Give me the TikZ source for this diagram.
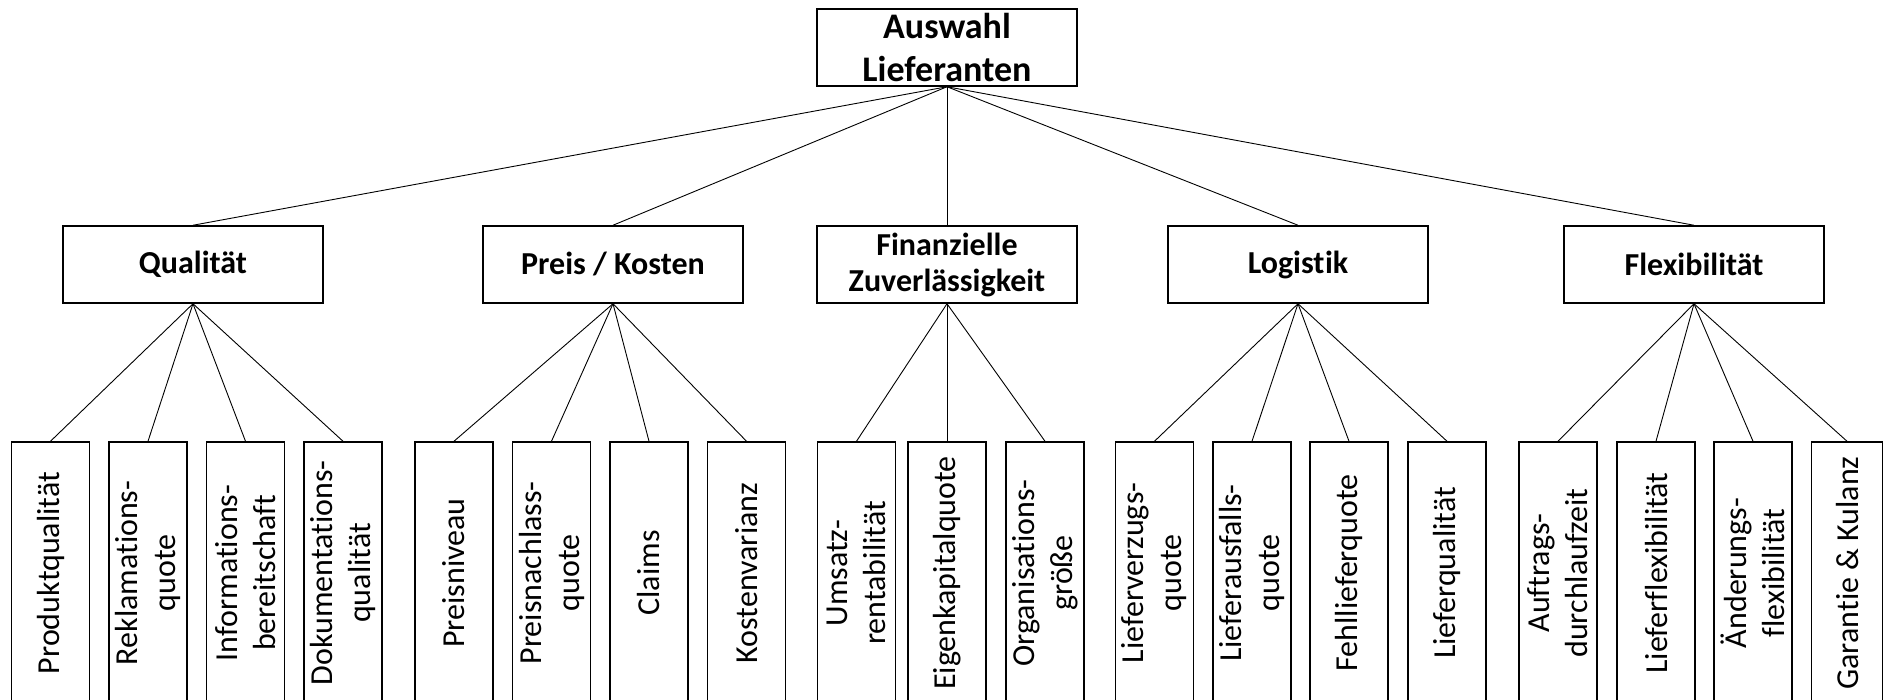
\documentclass[tikz,border=0pt]{standalone}
\usepackage{fontspec}
\setmainfont[Ligatures={NoCommon,NoContextual,NoRare},Contextuals={NoAlternate}]{Carlito}
\begin{document}
\begin{tikzpicture}[x=1pt,y=-1pt,
  box/.style={draw,line width=1.5pt,inner sep=0pt,align=center},
  rootbox/.style={box,minimum width=260,minimum height=77,
    font=\bfseries\fontsize{36}{43}\selectfont},
  catbox/.style={box,minimum width=260,minimum height=77,
    font=\bfseries\fontsize{32}{36}\selectfont},
  leafbox/.style={box,rotate=90,minimum width=262,minimum height=78,
    font=\fontsize{32}{38}\selectfont},
  link/.style={line width=0.9pt}]
\useasboundingbox (0,0) rectangle (1883,700);
\clip (0,0) rectangle (1883,700);

% root
\node[rootbox] (root) at (947,47.5) {Auswahl\\Lieferanten};

% criteria
\node[catbox] (qual) at (193,264.5) {Qualität};
\node[catbox] (preis) at (613,264.5) {Preis / Kosten};
\node[catbox] (fin) at (947,264.5) {Finanzielle\\Zuverlässigkeit};
\node[catbox] (log) at (1298,264.5) {Logist\kern0.5pt ik};
\node[catbox] (flex) at (1694,264.5) {Flexibilität};

% sub-criteria
\node[leafbox] (q1) at (50.5,573) {Produktqualität};
\node[leafbox] (q2) at (148,573) {Reklamations-\\quote};
\node[leafbox] (q3) at (245.5,573) {Informations-\\bereitschaft};
\node[leafbox] (q4) at (343,573) {Dokumentations-\\qualität};

\node[leafbox] (p1) at (454,573) {Preisniveau};
\node[leafbox] (p2) at (551.5,573) {Preisnachlass-\\quote};
\node[leafbox] (p3) at (649,573) {Claims};
\node[leafbox] (p4) at (746.5,573) {Kostenvarianz};

\node[leafbox] (f1) at (856.5,573) {Umsatz-\\rentabilität};
\node[leafbox] (f2) at (947,573) {Eigenkapitalquote};
\node[leafbox] (f3) at (1045,573) {Organisations-\\größe};

\node[leafbox] (l1) at (1154.5,573) {Lieferverzugs-\\quote};
\node[leafbox] (l2) at (1252,573) {Lieferausfalls-\\quote};
\node[leafbox] (l3) at (1349,573) {Fehllieferquote};
\node[leafbox] (l4) at (1447,573) {Lieferqualität};

\node[leafbox] (x1) at (1558,573) {Auftrags-\\durchlaufzeit};
\node[leafbox] (x2) at (1656,573) {Lieferflexibilität};
\node[leafbox] (x3) at (1753,573) {Änderungs-\\flexibilität};
\node[leafbox,minimum height=71] (x4) at (1847,573) {Garantie \& Kulanz};

% connectors
\foreach \c in {qual,preis,fin,log,flex}
  \draw[link] (root.south) -- (\c.north);
\foreach \l in {q1,q2,q3,q4}
  \draw[link] (qual.south) -- (\l.east);
\foreach \l in {p1,p2,p3,p4}
  \draw[link] (preis.south) -- (\l.east);
\foreach \l in {f1,f2,f3}
  \draw[link] (fin.south) -- (\l.east);
\foreach \l in {l1,l2,l3,l4}
  \draw[link] (log.south) -- (\l.east);
\foreach \l in {x1,x2,x3,x4}
  \draw[link] (flex.south) -- (\l.east);
\end{tikzpicture}
\end{document}
